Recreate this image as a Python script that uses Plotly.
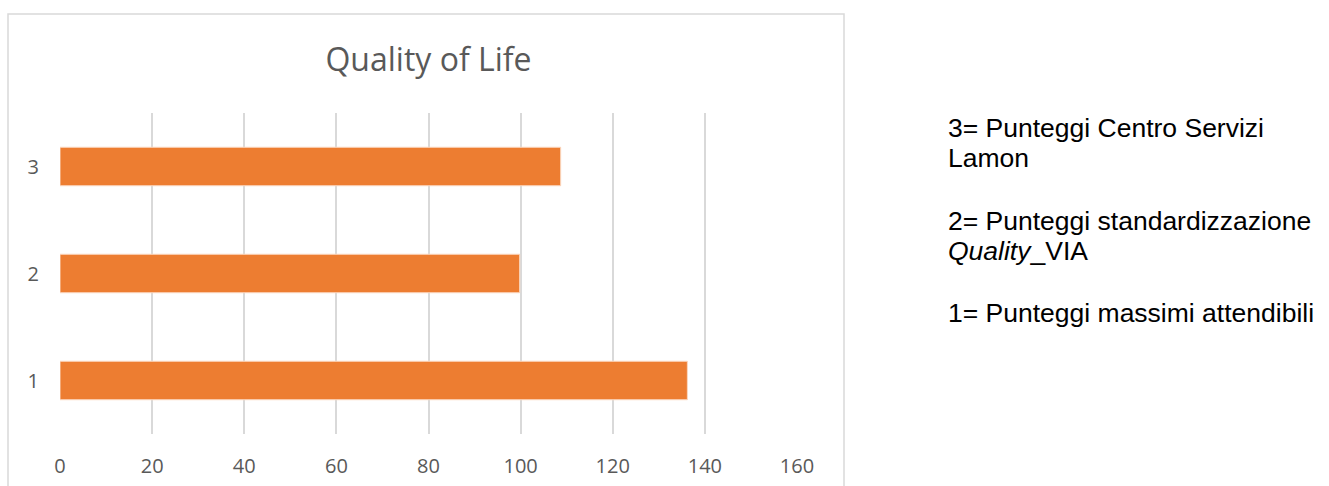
import plotly.graph_objects as go

categories = [1, 2, 3]
tick_labels = ["1", "2", "3"]
values = [136.2, 99.8, 108.7]
x_ticks = [0, 20, 40, 60, 80, 100, 120, 140, 160]
title_text = "Quality of Life"
legend_lines = [
    "3= Punteggi Centro Servizi",
    "Lamon",
    "2= Punteggi standardizzazione",
    "<i>Quality</i>_VIA",
    "1= Punteggi massimi attendibili",
]
legend_y_px = [128, 158, 221, 251, 313]

W, H = 1329, 486
L, R, T, B = 60, 797, 113, 434

def px_x(p):
    return (p - L) / (R - L)

def px_y(p):
    return (B - p) / (B - T)

fig = go.Figure()
fig.add_trace(go.Bar(
    x=values, y=categories, orientation="h", width=0.36,
    marker=dict(color="#ED7D31", line=dict(color="#FBD9C2", width=1)),
    hoverinfo="x+y",
))

annotations = []
for txt, yp in zip(legend_lines, legend_y_px):
    annotations.append(dict(
        text=txt, xref="paper", yref="paper", x=px_x(946), y=px_y(yp),
        xanchor="left", yanchor="middle", showarrow=False,
        font=dict(family="Liberation Sans, Arial", size=26.5, color="#000000"),
    ))

fig.update_layout(
    template="none",
    width=W, height=H,
    margin=dict(l=L, r=W - R, t=T, b=H - B, pad=0, autoexpand=False),
    paper_bgcolor="white", plot_bgcolor="white",
    showlegend=False,
    title=dict(text=title_text, x=0.5, xref="paper", y=1 - 60 / H, yanchor="middle",
               xanchor="center",
               font=dict(family="Open Sans", size=32, color="#595959")),
    xaxis=dict(range=[0, 160], tickvals=x_ticks, showgrid=True, gridcolor="#D9D9D9",
               gridwidth=1.5, zeroline=False, showline=False, ticks="",
               ticklabelstandoff=18, automargin=False,
               tickfont=dict(family="Open Sans", size=20, color="#595959"),
               fixedrange=True),
    yaxis=dict(range=[0.5, 3.5], tickvals=categories, ticktext=tick_labels,
               showgrid=False, zeroline=False, showline=False, ticks="",
               ticklabelstandoff=20, automargin=False,
               tickfont=dict(family="Open Sans", size=20, color="#595959"),
               fixedrange=True),
    annotations=annotations,
    shapes=[dict(type="rect", xref="paper", yref="paper",
                 x0=px_x(8), x1=px_x(844), y0=px_y(495), y1=px_y(14),
                 line=dict(color="#D9D9D9", width=1.5), fillcolor="rgba(0,0,0,0)",
                 layer="below")],
)

fig.write_html("out.html", config={"displayModeBar": False})
